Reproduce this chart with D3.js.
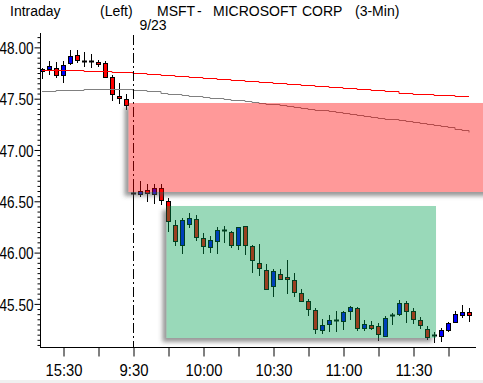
<!DOCTYPE html>
<html>
<head>
<meta charset="utf-8">
<script src="https://cdn.jsdelivr.net/npm/d3@7"></script>
<style>
body { margin: 0; background: #fff; }
svg { display: block; }
.title { font-family: "Liberation Sans", Arial, sans-serif; font-size: 14px; fill: #000; }
.tick text { font-family: "Liberation Sans", Arial, sans-serif; font-size: 17px; fill: #000; }
</style>
</head>
<body>
<div id="chart"></div>
<script>
// bar times (3-min), previous day then 9/23
var times = ["15:21","15:24","15:27","15:30","15:33","15:36","15:39","15:42","15:45","15:48","15:51","15:54","15:57",
	"9:30","9:33","9:36","9:39","9:42","9:45","9:48","9:51","9:54","9:57",
	"10:00","10:03","10:06","10:09","10:12","10:15","10:18","10:21","10:24","10:27",
	"10:30","10:33","10:36","10:39","10:42","10:45","10:48","10:51","10:54","10:57",
	"11:00","11:03","11:06","11:09","11:12","11:15","11:18","11:21","11:24","11:27",
	"11:30","11:33","11:36","11:39","11:42","11:45","11:48","11:51","11:54"];

var opens = [47.77,47.79,47.80,47.73,47.85,47.93,47.87,47.87,47.86,47.85,47.71,47.53,47.50,
	46.58,46.57,46.61,46.57,46.63,46.50,46.27,46.07,46.28,46.33,
	46.14,46.05,46.11,46.22,46.20,46.07,46.26,46.06,45.90,45.83,
	45.67,45.79,45.76,45.73,45.61,45.53,45.44,45.25,45.30,45.34,
	45.33,45.43,45.46,45.27,45.29,45.28,45.19,45.39,45.40,45.51,
	45.43,45.34,45.26,45.20,45.19,45.25,45.32,45.39,45.42];
var highs = [47.80,47.87,47.86,47.87,47.97,47.97,47.95,47.94,47.88,47.87,47.73,47.65,47.55,
	46.63,46.70,46.67,46.67,46.67,46.53,46.32,46.34,46.39,46.37,
	46.19,46.16,46.25,46.26,46.21,46.25,46.26,46.07,46.08,45.89,
	45.84,45.84,45.93,45.80,45.65,45.55,45.46,45.35,45.39,45.43,
	45.43,45.48,45.47,45.34,45.33,45.31,45.38,45.41,45.54,45.53,
	45.46,45.37,45.28,45.23,45.27,45.32,45.43,45.49,45.46];
var lows = [47.69,47.73,47.70,47.65,47.83,47.85,47.81,47.80,47.81,47.70,47.48,47.45,47.39,
	46.37,46.54,46.49,46.47,46.46,46.20,46.06,45.99,46.24,46.11,
	45.99,46.00,45.99,46.09,46.04,46.03,45.98,45.80,45.77,45.64,
	45.57,45.73,45.60,45.57,45.52,45.38,45.21,45.21,45.23,45.23,
	45.25,45.34,45.24,45.24,45.25,45.14,45.18,45.29,45.38,45.31,
	45.30,45.26,45.15,45.12,45.13,45.23,45.31,45.36,45.32];
var closes = [47.79,47.82,47.73,47.83,47.92,47.88,47.87,47.87,47.84,47.71,47.55,47.51,47.44,
	46.58,46.60,46.58,46.63,46.51,46.31,46.11,46.32,46.34,46.15,
	46.06,46.12,46.22,46.22,46.07,46.25,46.07,45.93,45.85,45.65,
	45.82,45.74,45.74,45.62,45.53,45.45,45.26,45.29,45.34,45.34,
	45.42,45.47,45.27,45.30,45.27,45.21,45.36,45.39,45.51,45.43,
	45.35,45.29,45.18,45.20,45.25,45.31,45.40,45.42,45.39];

// moving averages
var redAvg = [47.78,47.78,47.78,47.78,47.78,47.78,47.77,47.77,47.77,47.77,47.76,47.76,47.76,
	47.75,47.75,47.74,47.74,47.73,47.73,47.72,47.72,47.71,47.71,
	47.70,47.70,47.69,47.69,47.68,47.68,47.67,47.67,47.66,47.66,
	47.65,47.65,47.64,47.64,47.63,47.63,47.62,47.62,47.61,47.61,
	47.60,47.60,47.59,47.59,47.58,47.58,47.57,47.57,47.56,47.56,
	47.55,47.55,47.55,47.54,47.54,47.54,47.53,47.53,47.53];
var grayAvg = [47.57,47.57,47.58,47.58,47.58,47.58,47.59,47.59,47.59,47.59,47.59,47.59,47.59,
	47.58,47.58,47.57,47.57,47.56,47.55,47.55,47.54,47.53,47.53,
	47.52,47.51,47.51,47.50,47.49,47.49,47.48,47.47,47.46,47.45,
	47.45,47.44,47.43,47.42,47.41,47.40,47.39,47.39,47.38,47.37,
	47.36,47.35,47.34,47.33,47.32,47.31,47.30,47.30,47.29,47.28,
	47.27,47.26,47.25,47.24,47.23,47.22,47.20,47.19,47.18];

// price ticks
var yMajor = [45.5, 46.0, 46.5, 47.0, 47.5, 48.0];
var yMinor = [45.10,45.15,45.20,45.25,45.30,45.35,45.40,45.45,45.55,45.60,45.65,45.70,45.75,45.80,45.85,45.90,45.95,
	46.05,46.10,46.15,46.20,46.25,46.30,46.35,46.40,46.45,46.55,46.60,46.65,46.70,46.75,46.80,46.85,46.90,46.95,
	47.05,47.10,47.15,47.20,47.25,47.30,47.35,47.40,47.45,47.55,47.60,47.65,47.70,47.75,47.80,47.85,47.90,47.95,48.05,48.10];
// time ticks (every 15 min), labelled every 30 min
var xTicks = ["15:30","15:45","9:30","9:45","10:00","10:15","10:30","10:45","11:00","11:15","11:30","11:45"];
var xLabels = ["15:30","9:30","10:00","10:30","11:00","11:30"];

// shaded zones: first bar, last bar, top price, bottom price
var zoneStart = ["9:30", "9:45"];
var zoneEnd = ["", "11:39"];
var zoneTop = [47.458, 46.454];
var zoneBottom = [46.59, 45.168];

var width = 483, height = 383;
var svg = d3.select("#chart").append("svg")
	.attr("width", width)
	.attr("height", height);

var defs = svg.append("defs");
var f = defs.append("filter").attr("id", "shadow")
	.attr("x", -0.2).attr("y", -0.2).attr("width", 1.4).attr("height", 1.4);
f.append("feGaussianBlur").attr("in", "SourceAlpha").attr("stdDeviation", 2).attr("result", "b");
f.append("feOffset").attr("in", "b").attr("dx", -4).attr("dy", 4).attr("result", "o");
f.append("feFlood").attr("flood-color", "#555").attr("flood-opacity", 0.6).attr("result", "c");
f.append("feComposite").attr("in", "c").attr("in2", "o").attr("operator", "in").attr("result", "s");
f.append("feComposite").attr("in", "s").attr("in2", "SourceAlpha").attr("operator", "out");

// scales
var x = d3.scaleLinear().domain([0, times.length - 1]).range([42, 469]);
var y = d3.scaleLinear().domain([45.08, 48.14]).range([347, 33]);

function xi(t) { return times.indexOf(t); }
function px(t) { return Math.round(x(xi(t))) + 0.5; }

// candles
var bars = svg.append("g");
times.forEach(function (t, i) {
	var cx = px(t);
	var up = closes[i] >= opens[i];
	bars.append("line")
		.attr("x1", cx).attr("x2", cx)
		.attr("y1", Math.round(y(highs[i]))).attr("y2", Math.round(y(lows[i])))
		.attr("stroke", "#000");
	var top = Math.round(y(Math.max(opens[i], closes[i])));
	var bot = Math.round(y(Math.min(opens[i], closes[i])));
	if (opens[i] === closes[i]) {
		bars.append("line")
			.attr("x1", cx - 2.5).attr("x2", cx + 2.5)
			.attr("y1", top + 0.5).attr("y2", top + 0.5)
			.attr("stroke", "#000").attr("stroke-width", 2);
	} else {
		bars.append("rect")
			.attr("x", cx - 2).attr("width", 4)
			.attr("y", top + 0.5).attr("height", Math.max(1, bot - top))
			.attr("fill", up ? "#0000ff" : "#ff0000")
			.attr("stroke", "#000");
	}
});

// averages
var line = d3.line()
	.x(function (d, i) { return x(i); })
	.y(function (d) { return Math.round(y(d)) + 0.5; })
	.curve(d3.curveStepAfter);
svg.append("path").datum(grayAvg).attr("d", line)
	.attr("fill", "none").attr("stroke", "#808080");
svg.append("path").datum(redAvg).attr("d", line)
	.attr("fill", "none").attr("stroke", "#ff0000");

// day break
svg.append("line")
	.attr("x1", px("9:30")).attr("x2", px("9:30"))
	.attr("y1", 35).attr("y2", 347)
	.attr("stroke", "#000").attr("stroke-dasharray", "10,3,2,3");

// zones
var zoneColor = ["#ff0000", "#00a050"];
var zoneShift = [-4.5, -1.5];
zoneStart.forEach(function (s, k) {
	var x0 = x(xi(s)) + zoneShift[k];
	var x1 = zoneEnd[k] ? x(xi(zoneEnd[k])) + 2 : width + 20;
	var y0 = Math.round(y(zoneTop[k]));
	var y1 = Math.round(y(zoneBottom[k]));
	svg.append("rect")
		.attr("x", x0).attr("y", y0).attr("width", x1 - x0).attr("height", y1 - y0)
		.attr("fill", "#000").attr("filter", "url(#shadow)");
	svg.append("rect")
		.attr("x", x0).attr("y", y0).attr("width", x1 - x0).attr("height", y1 - y0)
		.attr("fill", zoneColor[k]).attr("fill-opacity", 0.4);
});

// axes
var yAxis = svg.append("g").attr("transform", "translate(40.5,0)")
	.call(d3.axisLeft(y).tickValues(yMajor).tickSize(6).tickSizeOuter(0).tickPadding(1)
		.tickFormat(d3.format(".2f")));
yAxis.select(".domain").remove();
yAxis.selectAll(".tick text").attr("dy", "0.36em")
	.attr("textLength", 34).attr("lengthAdjust", "spacingAndGlyphs");
svg.append("g").attr("transform", "translate(40.5,0)")
	.call(d3.axisLeft(y).tickValues(yMinor).tickSize(3).tickFormat(""))
	.select(".domain").remove();
svg.append("line").attr("x1", 40.5).attr("x2", 40.5).attr("y1", 33).attr("y2", 347.5)
	.attr("stroke", "#000");

var xAxis = svg.append("g").attr("transform", "translate(0,347.5)")
	.call(d3.axisBottom(x).tickValues(xTicks.map(xi)).tickSize(9).tickSizeOuter(0).tickPadding(7)
		.tickFormat(function (d) { return xLabels.indexOf(times[d]) >= 0 ? times[d] : ""; }));
xAxis.select(".domain").remove();
xAxis.selectAll(".tick line").attr("transform", "translate(0.5,0)");
xAxis.selectAll(".tick text").attr("transform", "translate(0.5,0)")
	.attr("textLength", function (d) { return times[d].length === 4 ? 29 : 37; })
	.attr("lengthAdjust", "spacingAndGlyphs");
svg.append("line").attr("x1", 40).attr("x2", 476).attr("y1", 347.5).attr("y2", 347.5)
	.attr("stroke", "#000");

// bottom strip
svg.append("rect").attr("x", 0).attr("y", 380).attr("width", width).attr("height", 3)
	.attr("fill", "#f0f0f0");

// titles
var titles = svg.append("g").attr("class", "title");
titles.append("text").attr("x", 10).attr("y", 16).text("Intraday");
titles.append("text").attr("x", 100).attr("y", 16).text("(Left)");
titles.append("text").attr("x", 157).attr("y", 16).text("MSFT");
titles.append("text").attr("x", 197).attr("y", 16).text("-");
titles.append("text").attr("x", 213).attr("y", 16).text("MICROSOFT");
titles.append("text").attr("x", 302).attr("y", 16).text("CORP");
titles.append("text").attr("x", 355).attr("y", 16).text("(3-Min)");
titles.append("text").attr("x", 153).attr("y", 30).attr("text-anchor", "middle").text("9/23");
</script>
</body>
</html>
